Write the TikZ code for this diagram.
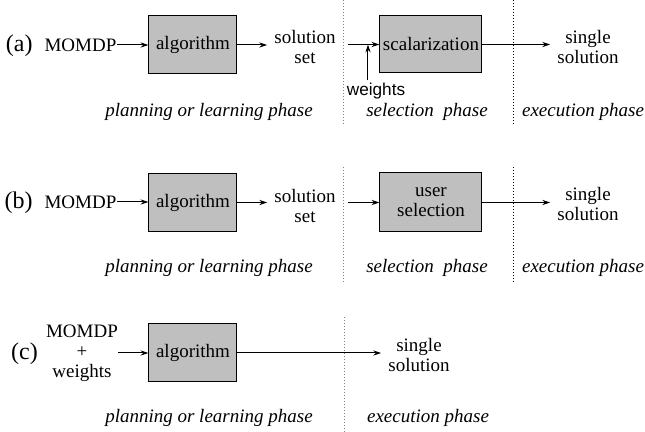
\documentclass[tikz,border=0pt]{standalone}
\usepackage{fontspec}
\setmainfont{Liberation Serif}
\setsansfont{Liberation Sans}
\usetikzlibrary{arrows.meta}
\tikzset{
  block/.style={draw,fill=gray!50,line width=0.5pt,inner sep=0pt,minimum width=44pt,minimum height=29pt,align=center,font=\fontsize{9.5}{10}\selectfont},
  txt/.style={align=center,font=\fontsize{9.5}{10}\selectfont},
  phase/.style={font=\fontsize{9.5}{10}\selectfont\itshape},
  lbl/.style={inner sep=0pt,font=\fontsize{12}{12}\selectfont},
  sepg/.style={gray,line width=0.5pt,dash pattern=on 0.5pt off 1pt},
  sepk/.style={black,line width=0.5pt,dash pattern=on 0.5pt off 1pt}
}
\begin{document}
\begin{tikzpicture}[>={Stealth[length=4pt,width=2.6pt]},x=0.5pt,y=-0.5pt,line width=0.5pt]
\useasboundingbox (0,0) rectangle (645,432);
% (a)
\node[txt,inner sep=0pt] (momdpa) at (80.5,45) {MOMDP};
\node[lbl,anchor=base east] (lbla) at ([xshift=-5.5pt]momdpa.base west) {(a)};
\node[block] (alga) at (193,45) {algorithm};
\node[txt] (sola) at (305,47) {solution\\set};
\coordinate (ina) at (348,44.5);
\coordinate (wa) at (368,44.5);
\node[block,minimum width=51pt,minimum height=28.5pt] (scala) at (431,44.5) {scalarization};
\node[txt,inner sep=1pt,font=\fontsize{8.6}{10}\sffamily\selectfont] (wghta) at (376,91) {weights};
\node[txt] (sngla) at (588,47.5) {single\\solution};
\draw[->] (momdpa.east) -- (momdpa.east -| alga.west);
\draw[->] (alga.east) -- (alga.east -| sola.west);
\draw[->] (ina) -- (scala.west);
\draw[->] (wghta.north -| wa) -- (wa);
\draw[->] (scala.east) -- (scala.east -| sngla.west);
\node[phase] (plana) at (209,112) {planning or learning phase};
\node[phase] (sela) at (427,112) {selection~~phase};
\node[phase] (exea) at (583,112) {execution phase};
\draw[sepg] (344,0) -- (344,125);
\draw[sepk] (514,0) -- (514,125);
% (b)
\node[txt,inner sep=0pt] (momdpb) at (80.5,202) {MOMDP};
\node[lbl,anchor=base east] (lblb) at ([xshift=-5.5pt]momdpb.base west) {(b)};
\node[block] (algb) at (193,202.5) {algorithm};
\node[txt] (solb) at (305,206) {solution\\set};
\coordinate (inb) at (348,202.5);
\node[block,minimum width=51pt,minimum height=29.5pt] (usrb) at (431,202.5) {user\\selection};
\node[txt] (snglb) at (588,204.5) {single\\solution};
\draw[->] (momdpb.east) -- (momdpb.east -| algb.west);
\draw[->] (algb.east) -- (algb.east -| solb.west);
\draw[->] (inb) -- (usrb.west);
\draw[->] (usrb.east) -- (usrb.east -| snglb.west);
\node[phase] (planb) at (209,268) {planning or learning phase};
\node[phase] (selb) at (427,268) {selection~~phase};
\node[phase] (exeb) at (583,268) {execution phase};
\draw[sepg] (344,167) -- (344,283);
\draw[sepk] (514,167) -- (514,283);
% (c)
\node[txt,inner sep=0pt] (momdpc) at (82,353) {MOMDP\\+\\weights};
\node[lbl] (lblc) at (24.5,354) {(c)};
\node[block] (algc) at (193,353) {algorithm};
\node[txt] (snglc) at (419,355) {single\\solution};
\draw[->] (momdpc.east) -- (momdpc.east -| algc.west);
\draw[->] (algc.east) -- (algc.east -| snglc.west);
\node[phase] (planc) at (209,418) {planning or learning phase};
\node[phase] (exec) at (428,418) {execution phase};
\draw[sepg] (345,317) -- (345,432);
\end{tikzpicture}
\end{document}
